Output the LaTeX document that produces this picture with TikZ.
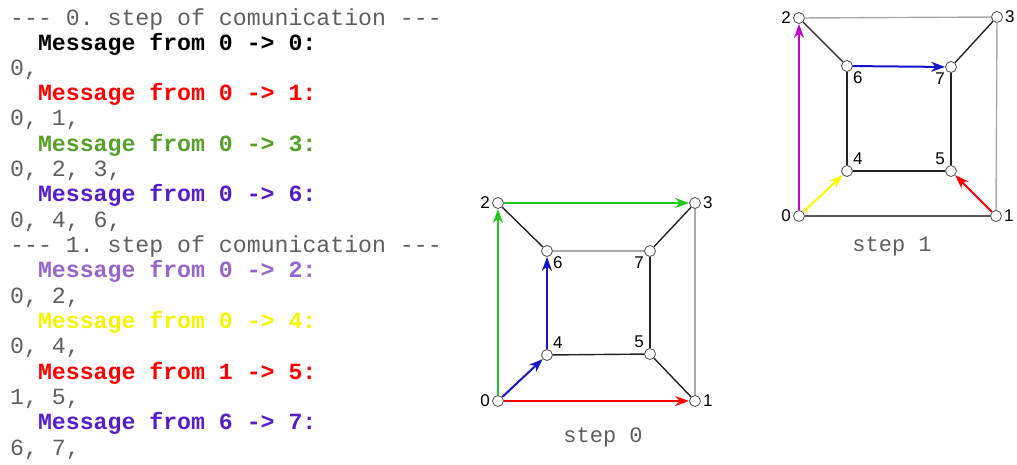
\documentclass[tikz,border=0pt]{standalone}
\usepackage{fontspec}
\setmainfont{Liberation Sans}
\setsansfont{Liberation Sans}
\setmonofont{Liberation Mono}
\usetikzlibrary{arrows.meta}
\definecolor{txtgray}{RGB}{95,95,95}
\definecolor{txtgreen}{RGB}{85,160,40}
\definecolor{txtblue}{RGB}{85,30,200}
\definecolor{txtlilac}{RGB}{150,100,205}
\definecolor{txtyellow}{RGB}{245,245,0}
\definecolor{edgegray}{RGB}{170,170,170}
\definecolor{edgedark}{RGB}{35,35,35}
\definecolor{sendgreen}{RGB}{30,200,30}
\definecolor{sendblue}{RGB}{20,20,200}
\definecolor{sendmagenta}{RGB}{200,0,200}
\definecolor{sendyellow}{RGB}{250,250,0}
\tikzstyle{vertex} = [circle, minimum width=11pt, inner sep=0pt, draw=gray!60!black, line width=0.8pt, fill=white]
\tikzstyle{lbl} = [font=\sffamily\fontsize{17}{17}\selectfont, inner sep=1pt, label distance=1pt]
\tikzstyle{txt} = [anchor=base west, inner sep=0pt, font=\ttfamily\fontsize{23.2}{25}\selectfont]
\tikzstyle{msg} = [txt, font=\ttfamily\bfseries\fontsize{23.2}{25}\selectfont]
\tikzstyle{plain} = [draw=edgedark, line width=1.4pt]
\tikzstyle{faint} = [draw=edgegray, line width=1.4pt]
\tikzstyle{send} = [-{Stealth[length=14pt,width=10pt]}, line width=2pt]
\tikzstyle{steplabel} = [font=\ttfamily\fontsize{22}{22}\selectfont, text=txtgray]

\begin{document}
\begin{tikzpicture}[x=1pt, y=-1pt]
	\useasboundingbox (0,0) rectangle (1017,464);

	% log of the messages
	\node[txt, text=txtgray] (l1) at (10,25) {--- 0. step of comunication ---};
	\node[msg, text=black] (l2) at (37.8,50) {Message from 0 -> 0:};
	\node[txt, text=txtgray] (l3) at (10,75) {0,};
	\node[msg, text=red] (l4) at (37.8,100) {Message from 0 -> 1:};
	\node[txt, text=txtgray] (l5) at (10,125.5) {0, 1,};
	\node[msg, text=txtgreen] (l6) at (37.8,151) {Message from 0 -> 3:};
	\node[txt, text=txtgray] (l7) at (10,176) {0, 2, 3,};
	\node[msg, text=txtblue] (l8) at (37.8,201.5) {Message from 0 -> 6:};
	\node[txt, text=txtgray] (l9) at (10,227) {0, 4, 6,};
	\node[txt, text=txtgray] (l10) at (10,252) {--- 1. step of comunication ---};
	\node[msg, text=txtlilac] (l11) at (37.8,277.5) {Message from 0 -> 2:};
	\node[txt, text=txtgray] (l12) at (10,303) {0, 2,};
	\node[msg, text=txtyellow] (l13) at (37.8,328) {Message from 0 -> 4:};
	\node[txt, text=txtgray] (l14) at (10,353.5) {0, 4,};
	\node[msg, text=red] (l15) at (37.8,379) {Message from 1 -> 5:};
	\node[txt, text=txtgray] (l16) at (10,404) {1, 5,};
	\node[msg, text=txtblue] (l17) at (37.8,429.5) {Message from 6 -> 7:};
	\node[txt, text=txtgray] (l18) at (10,455) {6, 7,};

	% step 0
	\node[vertex, label={[lbl]left:0}] (a0) at (498,401) {};
	\node[vertex, label={[lbl]right:1}] (a1) at (695,401) {};
	\node[vertex, label={[lbl]left:2}] (a2) at (498,203) {};
	\node[vertex, label={[lbl]right:3}] (a3) at (695,203) {};
	\node[vertex, label={[lbl]above right:4}] (a4) at (547,355) {};
	\node[vertex, label={[lbl]above left:5}] (a5) at (650,354) {};
	\node[vertex, label={[lbl]below right:6}] (a6) at (547,251) {};
	\node[vertex, label={[lbl]below left:7}] (a7) at (650,251) {};
	\draw[faint] (a6) -- (a7);
	\draw[faint] (a3) -- (a1);
	\draw[plain] (a2) -- (a6);
	\draw[plain] (a7) -- (a3);
	\draw[plain] (a7) -- (a5);
	\draw[plain] (a4) -- (a5);
	\draw[plain] (a5) -- (a1);
	\draw[send, sendgreen] (a0) -- (a2);
	\draw[send, sendgreen] (a2) -- (a3);
	\draw[send, red] (a0) -- (a1);
	\draw[send, sendblue] (a0) -- (a4);
	\draw[send, sendblue] (a4) -- (a6);
	\node[steplabel] (cap0) at (603,437) {step 0};

	% step 1
	\node[vertex, label={[lbl]left:0}] (b0) at (799,216) {};
	\node[vertex, label={[lbl]right:1}] (b1) at (996,216) {};
	\node[vertex, label={[lbl]left:2}] (b2) at (799,18) {};
	\node[vertex, label={[lbl]right:3}] (b3) at (997,17) {};
	\node[vertex, label={[lbl]above right:4}] (b4) at (847,171) {};
	\node[vertex, label={[lbl]above left:5}] (b5) at (951,171) {};
	\node[vertex, label={[lbl]below right:6}] (b6) at (847,66) {};
	\node[vertex, label={[lbl]below left:7}] (b7) at (951,67) {};
	\draw[faint] (b2) -- (b3);
	\draw[faint] (b3) -- (b1);
	\draw[plain, draw=gray!70!black] (b0) -- (b1);
	\draw[plain] (b2) -- (b6);
	\draw[plain] (b3) -- (b7);
	\draw[plain] (b6) -- (b4);
	\draw[plain] (b7) -- (b5);
	\draw[plain] (b4) -- (b5);
	\draw[send, sendmagenta] (b0) -- (b2);
	\draw[send, sendyellow] (b0) -- (b4);
	\draw[send, red] (b1) -- (b5);
	\draw[send, sendblue] (b6) -- (b7);
	\node[steplabel] (cap1) at (892,246) {step 1};
\end{tikzpicture}
\end{document}
